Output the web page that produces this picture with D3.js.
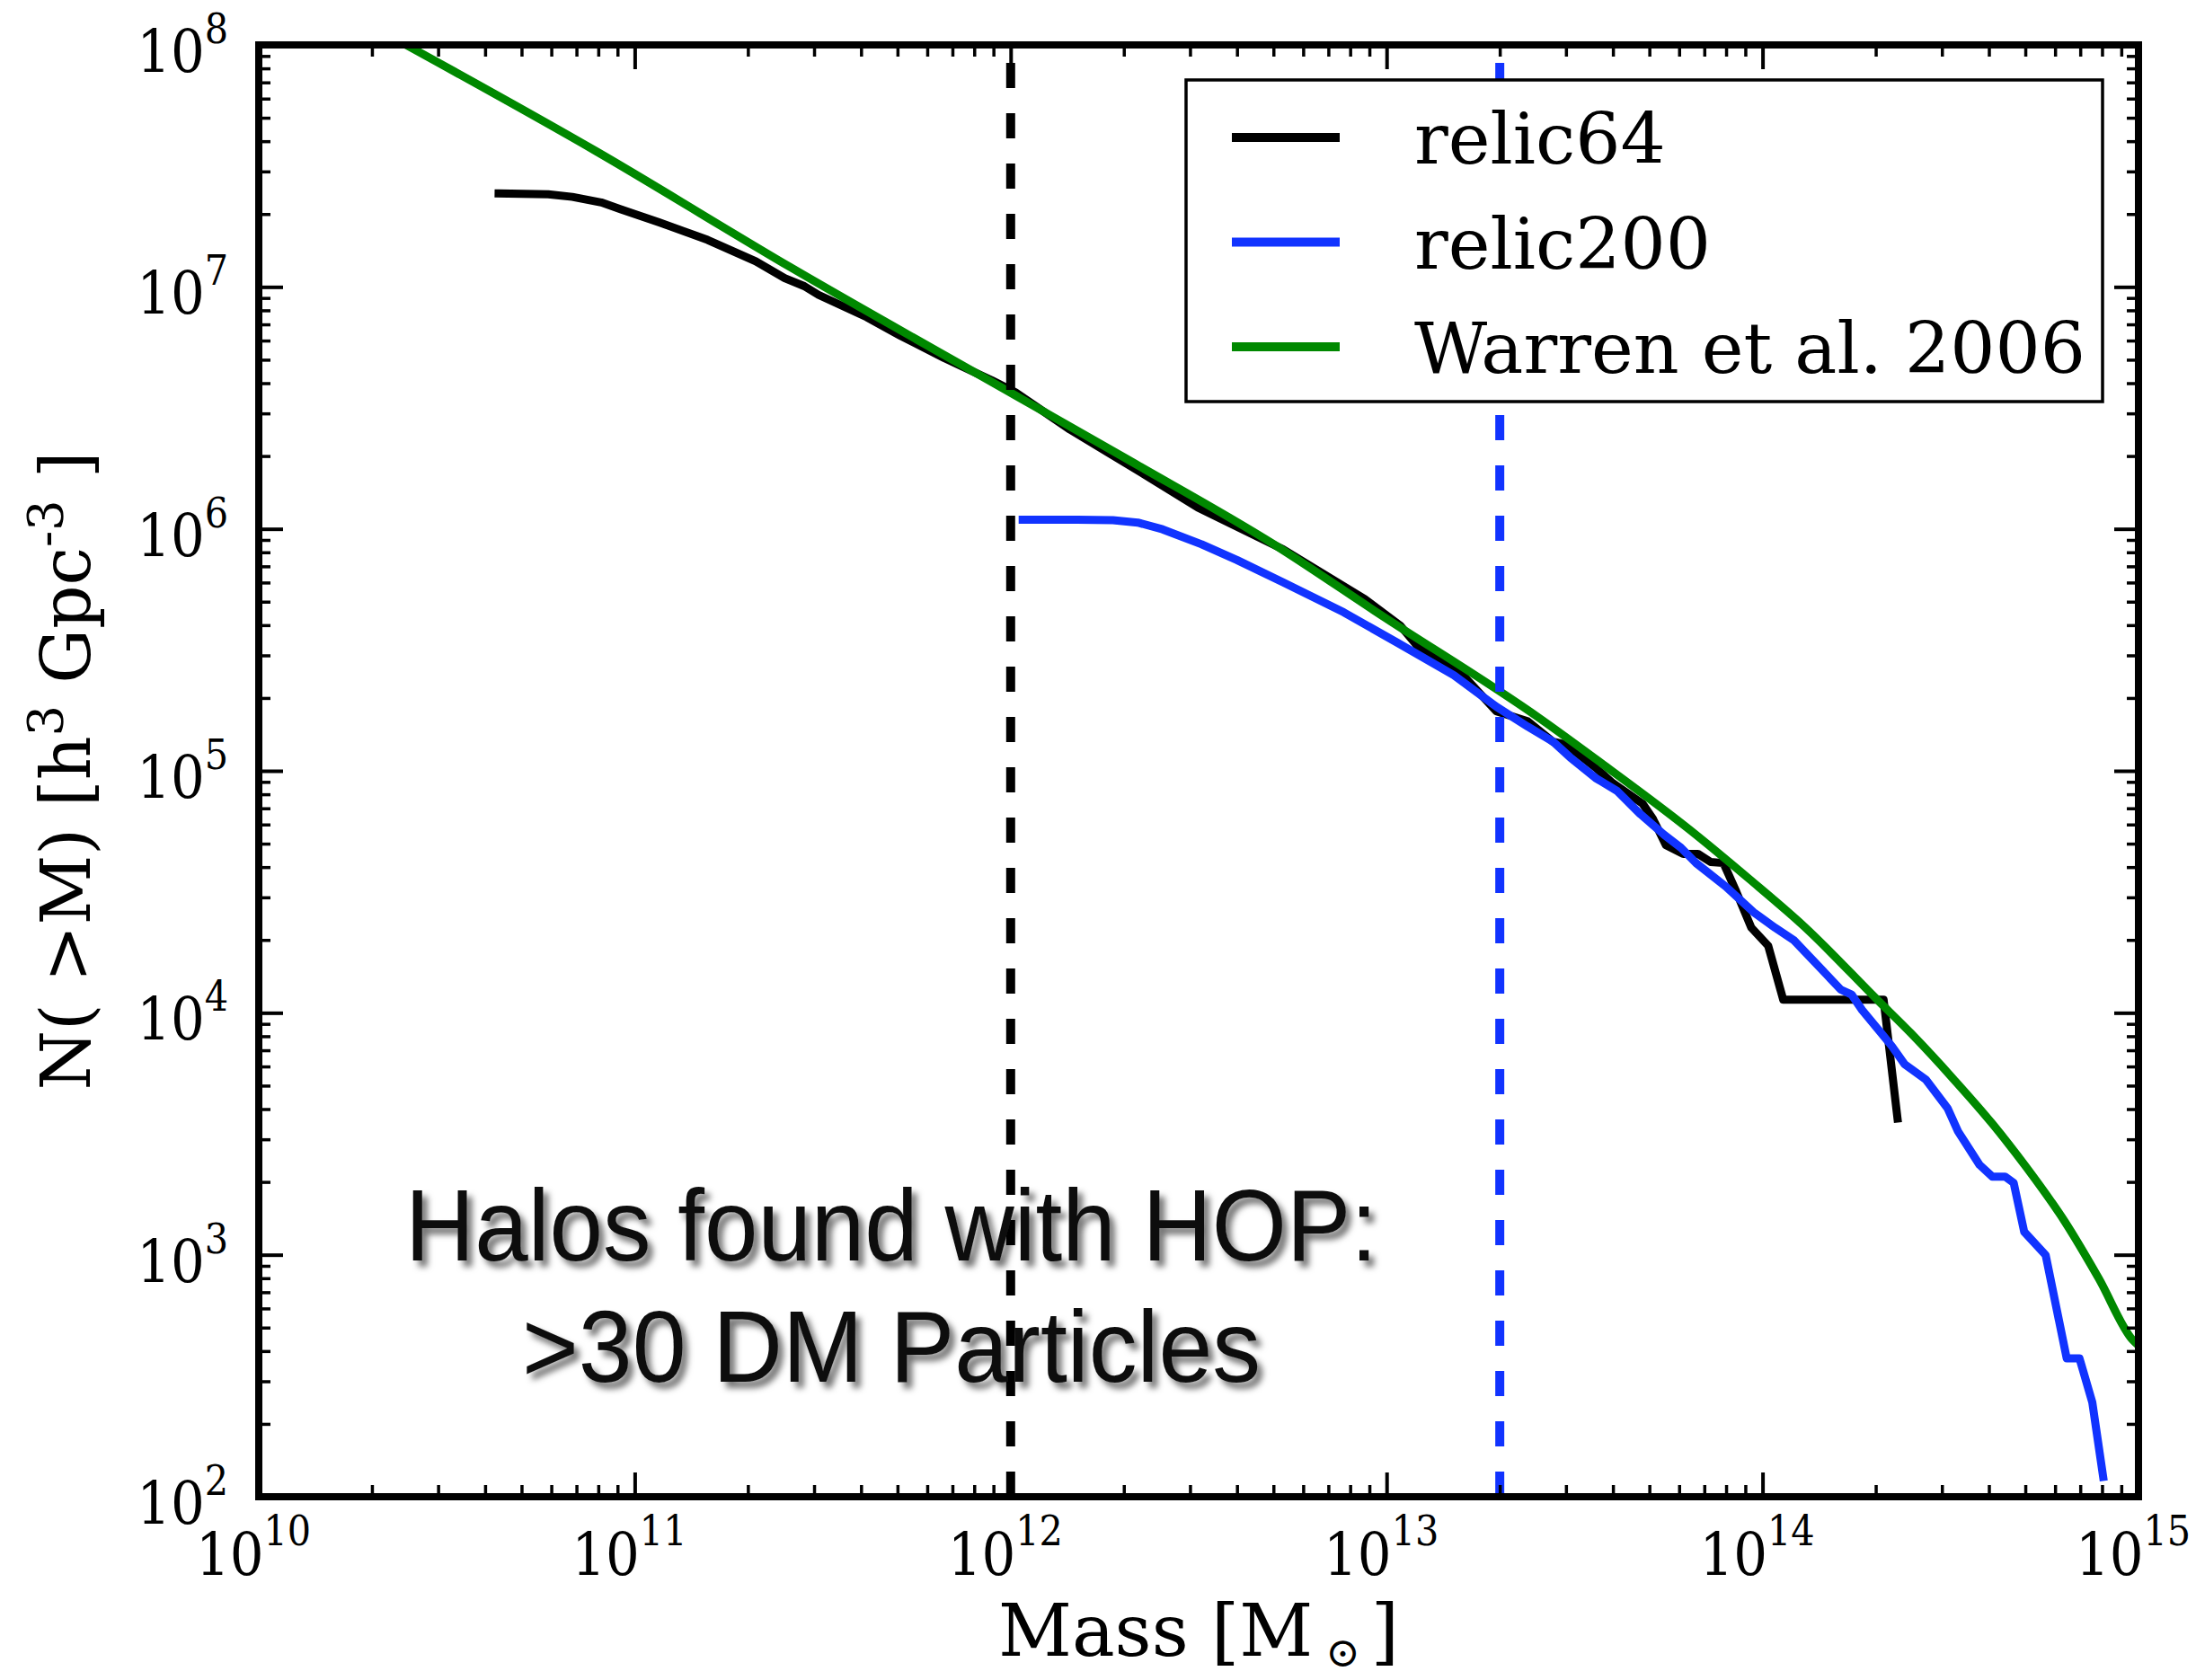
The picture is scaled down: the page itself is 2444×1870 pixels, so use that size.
<!DOCTYPE html>
<meta charset="utf-8">
<style>
body { margin: 0; background: #fff; }
svg text { font-family: "DejaVu Serif", serif; fill: #000; }
.tick-label { font-family: "DejaVu Serif Condensed", "DejaVu Serif", serif; font-stretch: condensed; }
.series { fill: none; stroke-width: 9px; stroke-linejoin: round; stroke-linecap: square; }
.note text { font-family: "Liberation Sans", Arial, sans-serif; fill: #111; }
</style>
<body>
<div id="chart"></div>
<script src="https://cdn.jsdelivr.net/npm/d3@7"></script>
<script>

// values, as log10(mass) and log10(N)
var relic64LogM = [10.638, 10.770, 10.834, 10.911, 10.963, 11.065, 11.194, 11.322, 11.399, 11.451, 11.489, 11.617, 11.707, 11.823, 11.951, 12.012, 12.158, 12.347, 12.498, 12.725, 12.942, 13.037, 13.084, 13.207, 13.292, 13.375, 13.443, 13.477, 13.556, 13.602, 13.681, 13.709, 13.743, 13.789, 13.828, 13.862, 13.896, 13.930, 13.970, 14.015, 14.055, 14.322, 14.359];
var relic64LogN = [7.386, 7.383, 7.372, 7.349, 7.321, 7.267, 7.194, 7.106, 7.036, 7.003, 6.967, 6.875, 6.798, 6.706, 6.613, 6.565, 6.410, 6.233, 6.088, 5.915, 5.710, 5.599, 5.512, 5.389, 5.246, 5.205, 5.120, 5.109, 5.013, 4.949, 4.864, 4.800, 4.693, 4.657, 4.657, 4.623, 4.619, 4.501, 4.352, 4.277, 4.054, 4.054, 3.563];

var relic200LogM = [12.032, 12.177, 12.272, 12.338, 12.404, 12.508, 12.602, 12.725, 12.886, 13.027, 13.179, 13.292, 13.375, 13.443, 13.488, 13.556, 13.613, 13.675, 13.738, 13.783, 13.823, 13.902, 13.976, 14.033, 14.084, 14.169, 14.208, 14.237, 14.265, 14.316, 14.344, 14.378, 14.435, 14.492, 14.520, 14.577, 14.611, 14.645, 14.668, 14.696, 14.753, 14.809, 14.843, 14.877, 14.906];
var relic200LogN = [6.038, 6.038, 6.036, 6.026, 5.998, 5.936, 5.871, 5.779, 5.655, 5.531, 5.395, 5.265, 5.183, 5.120, 5.056, 4.970, 4.917, 4.821, 4.736, 4.682, 4.619, 4.522, 4.416, 4.352, 4.299, 4.160, 4.096, 4.075, 4.011, 3.915, 3.862, 3.787, 3.723, 3.606, 3.510, 3.372, 3.323, 3.323, 3.297, 3.095, 2.999, 2.572, 2.572, 2.391, 2.082];

var warrenLogM = [10.392, 10.898, 11.412, 12.012, 12.319, 12.697, 12.980, 13.409, 13.579, 13.806, 13.964, 14.112, 14.305, 14.395, 14.509, 14.611, 14.702, 14.804, 14.894, 14.985, 15.0];
var warrenLogN = [8.0, 7.560, 7.083, 6.552, 6.280, 5.939, 5.649, 5.215, 5.023, 4.757, 4.554, 4.355, 4.054, 3.915, 3.724, 3.542, 3.361, 3.137, 2.903, 2.647, 2.625];

var xTickExps = [10, 11, 12, 13, 14, 15];
var yTickExps = [2, 3, 4, 5, 6, 7, 8];

var legendLabels = ["relic64", "relic200", "Warren et al. 2006"];
var seriesColors = ["#000000", "#1133ff", "#008800"];

var cutMasses = [1e12, 2e13];        // resolution limits (dashed)
var cutColors = ["#000000", "#1133ff"];

var noteLines = ["Halos found with HOP:", ">30 DM Particles"];

//////////////////////////////// setup ////////////////////////////////
var chartWidth  = 2444,
    chartHeight = 1870;

var margin = {top: 50, right: 64, bottom: 204, left: 288},
    width  = chartWidth - margin.left - margin.right,
    height = chartHeight - margin.top - margin.bottom;

var root = d3.select("#chart").append("svg")
    .attr("width", chartWidth)
    .attr("height", chartHeight)
    .style("background", "#fff");

var defs = root.append("defs");
defs.append("clipPath").attr("id", "plot-clip")
  .append("rect").attr("width", width).attr("height", height);

var shadow = defs.append("filter").attr("id", "soft-shadow")
    .attr("x", "-5%").attr("y", "-20%").attr("width", "115%").attr("height", "160%");
shadow.append("feDropShadow")
    .attr("dx", 6).attr("dy", 7).attr("stdDeviation", 3.5)
    .attr("flood-color", "#000").attr("flood-opacity", 0.55);

var svg = root.append("g")
    .attr("transform", "translate(" + margin.left + "," + margin.top + ")");

var x = d3.scaleLog().domain([1e10, 1e15]).range([0, width]);
var y = d3.scaleLog().domain([1e2, 1e8]).range([height, 0]);

var pow10 = v => Math.pow(10, v);
var isMajor = v => Math.abs(Math.log10(v) - Math.round(Math.log10(v))) < 1e-9;

//////////////////////////////// data lines ////////////////////////////////
var series = [
    {name: legendLabels[0], color: seriesColors[0], pts: d3.zip(relic64LogM, relic64LogN), curve: d3.curveLinear},
    {name: legendLabels[1], color: seriesColors[1], pts: d3.zip(relic200LogM, relic200LogN), curve: d3.curveLinear},
    {name: legendLabels[2], color: seriesColors[2], pts: d3.zip(warrenLogM, warrenLogN), curve: d3.curveMonotoneX} // fit is smooth
];

var line = d3.line()
    .x(d => x(pow10(d[0])))
    .y(d => y(pow10(d[1])));

var plot = svg.append("g").attr("clip-path", "url(#plot-clip)");

plot.selectAll(".series")
    .data(series)
    .join("path")
    .attr("class", "series")
    .attr("stroke", d => d.color)
    .attr("d", d => line.curve(d.curve)(d.pts));

// vertical dashed cuts, drawn bottom -> top like axvline
plot.selectAll(".cut")
    .data(cutMasses)
    .join("line")
    .attr("class", "cut")
    .attr("x1", d => x(d)).attr("x2", d => x(d))
    .attr("y1", y(1e2)).attr("y2", y(1e8))
    .attr("stroke", (d, i) => cutColors[i])
    .attr("stroke-width", 10)
    .attr("stroke-dasharray", "28,28");

//////////////////////////////// ticks (inward, all four sides) ////////////////////////////////
var xMinor = x.ticks().filter(v => !isMajor(v)),
    xMajor = xTickExps.map(pow10),
    yMinor = y.ticks().filter(v => !isMajor(v)),
    yMajor = yTickExps.map(pow10);

function tickRow(axisFn, scale, values, size, sw, tr) {
    svg.append("g")
        .attr("transform", tr)
        .call(axisFn(scale).tickValues(values).tickSize(-size).tickSizeOuter(0).tickFormat(""))
        .call(g => g.select(".domain").remove())
        .call(g => g.selectAll("line").attr("stroke", "#000").attr("stroke-width", sw));
}

tickRow(d3.axisBottom, x, xMinor, 13, 3.5, "translate(0," + height + ")");
tickRow(d3.axisBottom, x, xMajor, 27, 4,   "translate(0," + height + ")");
tickRow(d3.axisTop,    x, xMinor, 13, 3.5, "translate(0,0)");
tickRow(d3.axisTop,    x, xMajor, 27, 4,   "translate(0,0)");
tickRow(d3.axisLeft,   y, yMinor, 13, 3.5, "translate(0,0)");
tickRow(d3.axisLeft,   y, yMajor, 27, 4,   "translate(0,0)");
tickRow(d3.axisRight,  y, yMinor, 13, 3.5, "translate(" + width + ",0)");
tickRow(d3.axisRight,  y, yMajor, 27, 4,   "translate(" + width + ",0)");

// frame
svg.append("rect")
    .attr("width", width).attr("height", height)
    .attr("fill", "none").attr("stroke", "#000").attr("stroke-width", 8);

//////////////////////////////// tick labels ////////////////////////////////
var xLab = svg.append("g").selectAll("text")
    .data(xTickExps)
    .join("text")
    .attr("class", "tick-label")
    .attr("x", d => x(pow10(d)) - 6)
    .attr("y", height + 87)
    .attr("text-anchor", "middle")
    .style("font-size", "66px");
xLab.append("tspan").text("10");
xLab.append("tspan").attr("dy", -33).style("font-size", "46px").text(d => d);

var yLab = svg.append("g").selectAll("text")
    .data(yTickExps)
    .join("text")
    .attr("class", "tick-label")
    .attr("x", -34)
    .attr("y", d => y(pow10(d)) + 30)
    .attr("text-anchor", "end")
    .style("font-size", "66px");
yLab.append("tspan").text("10");
yLab.append("tspan").attr("dy", -32).style("font-size", "46px").text(d => d);

//////////////////////////////// axis titles ////////////////////////////////
var xTitle = svg.append("text")
    .attr("x", width / 2)
    .attr("y", height + 177)
    .attr("text-anchor", "middle")
    .style("font-size", "80px");
xTitle.append("tspan").text("Mass [M");
xTitle.append("tspan").attr("dx", 14).attr("dy", 12).style("font-size", "46px").text("\u2299");
xTitle.append("tspan").attr("dx", 12).attr("dy", -12).text("]");

var yTitle = svg.append("text")
    .attr("transform", "translate(" + (100 - margin.left) + "," + (height / 2) + ") rotate(-90)")
    .attr("text-anchor", "middle")
    .style("font-size", "76px");
yTitle.append("tspan").text("N( >M) [h");
yTitle.append("tspan").attr("dy", -30).style("font-size", "54px").text("3");
yTitle.append("tspan").attr("dy", 30).text(" Gpc");
yTitle.append("tspan").attr("dy", -30).style("font-size", "54px").text("-3");
yTitle.append("tspan").attr("dy", 30).text(" ]");

//////////////////////////////// legend ////////////////////////////////
var legend = svg.append("g")
    .attr("class", "legend")
    .attr("transform", "translate(" + (1320 - margin.left) + "," + (89 - margin.top) + ")");

legend.append("rect")
    .attr("width", 1020).attr("height", 358)
    .attr("fill", "#fff").attr("stroke", "#000").attr("stroke-width", 3.5);

var rows = legend.selectAll(".row")
    .data(series)
    .join("g")
    .attr("class", "row")
    .attr("transform", (d, i) => "translate(0," + (64 + i * 116.5) + ")");

rows.append("line")
    .attr("x1", 51).attr("x2", 171)
    .attr("stroke", d => d.color)
    .attr("stroke-width", 10);

rows.append("text")
    .attr("x", 254).attr("y", 29)
    .style("font-size", "79px")
    .text(d => d.name);

//////////////////////////////// note ////////////////////////////////
var note = svg.append("g")
    .attr("class", "note")
    .attr("filter", "url(#soft-shadow)");

note.selectAll("text")
    .data(noteLines)
    .join("text")
    .attr("x", 992 - margin.left)
    .attr("y", (d, i) => 1403 - margin.top + i * 135)
    .attr("text-anchor", "middle")
    .attr("textLength", (d, i) => i == 0 ? 1082 : 822)
    .attr("lengthAdjust", "spacingAndGlyphs")
    .style("font-size", "113px")
    .text(d => d);

</script>
